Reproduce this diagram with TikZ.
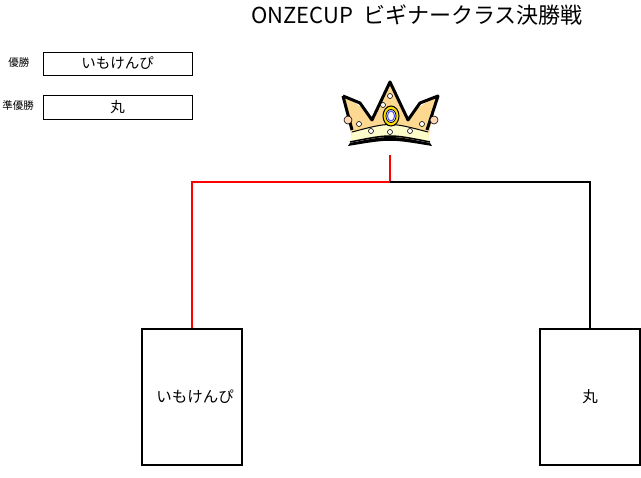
\documentclass[tikz,border=0pt]{standalone}
\usepackage{fontspec}
\newfontfamily\cjk{Noto Sans CJK JP}
\begin{document}
\begin{tikzpicture}[x=1pt,y=-1pt,
  lbl/.style={font=\cjk\fontsize{10.5}{10.5}\selectfont,inner sep=0},
  namebox/.style={draw,line width=0.8pt,inner sep=0,font=\cjk\fontsize{14.5}{14.5}\selectfont},
  team/.style={draw,line width=1.6pt,inner sep=0,font=\cjk\fontsize{15.5}{15.5}\selectfont},
  win/.style={red,line width=1.2pt},
  lose/.style={black,line width=1.2pt}]
\useasboundingbox (0,0) rectangle (641,478);
\node[font=\cjk\fontsize{22}{22}\selectfont,inner sep=0] (title) at (417,15) {ONZECUP\ \ ビギナークラス決勝戦};
\node[lbl] (l1) at (19,63) {優勝};
\node[lbl] (l2) at (18,106) {準優勝};
\node[namebox,minimum width=149,minimum height=23] (w) at (117.5,63.5) {いもけんぴ};
\node[namebox,minimum width=149,minimum height=24] (r) at (117.5,107) {丸};
\node[team,minimum width=100,minimum height=136] (A) at (192,397) {\hspace*{6pt}いもけんぴ};
\node[team,minimum width=100,minimum height=136] (B) at (590,397) {丸};
% crown
\coordinate (ctop) at (390,155);
\coordinate (cj) at (390,182);
\begin{scope}
\fill[yellow!30!orange!40] (345,96) -- (362,108) -- (372,122) -- (390,82) -- (408,122) -- (418,108) -- (436,96) -- (428,140) -- (352,140) -- cycle;
\draw[line width=3pt,line join=round] (343,96) -- (360,103) -- (372,120) -- (390,82) -- (408,120) -- (420,103) -- (438,96) -- (427,130);
\draw[line width=3pt,line join=round] (343,96) -- (352,130);
\fill[yellow!20] (352,132) .. controls (390,122) .. (428,132) -- (430,142) .. controls (390,134) .. (350,142) -- cycle;
\draw[line width=1.5pt] (350,142) .. controls (390,134) .. (430,142);
\draw[line width=1pt] (352,132) .. controls (390,122) .. (428,132);
\fill[black] (350,143) .. controls (390,135) .. (430,143) -- (432,146) .. controls (390,139) .. (348,146) -- cycle;
\draw[fill=yellow!80!orange,line width=1pt] (391,116) ellipse (8 and 10);
\draw[fill=white,line width=0.8pt] (391,116) ellipse (5 and 6.5);
\draw[blue!70,line width=1pt] (391,116) ellipse (3.5 and 5);
\foreach \p in {(390,96),(371,131),(410,131),(390,132),(359,124),(422,124),(383,105)}
  \draw[fill=white,line width=0.6pt] \p circle (2.5);
\draw[fill=orange!30,line width=0.6pt] (348,120) circle (4);
\draw[fill=orange!30,line width=0.6pt] (434,120) circle (4);
\end{scope}
\draw[win] (ctop) -- (cj) -| (A.north);
\draw[lose] (cj) -| (B.north);
\end{tikzpicture}
\end{document}
